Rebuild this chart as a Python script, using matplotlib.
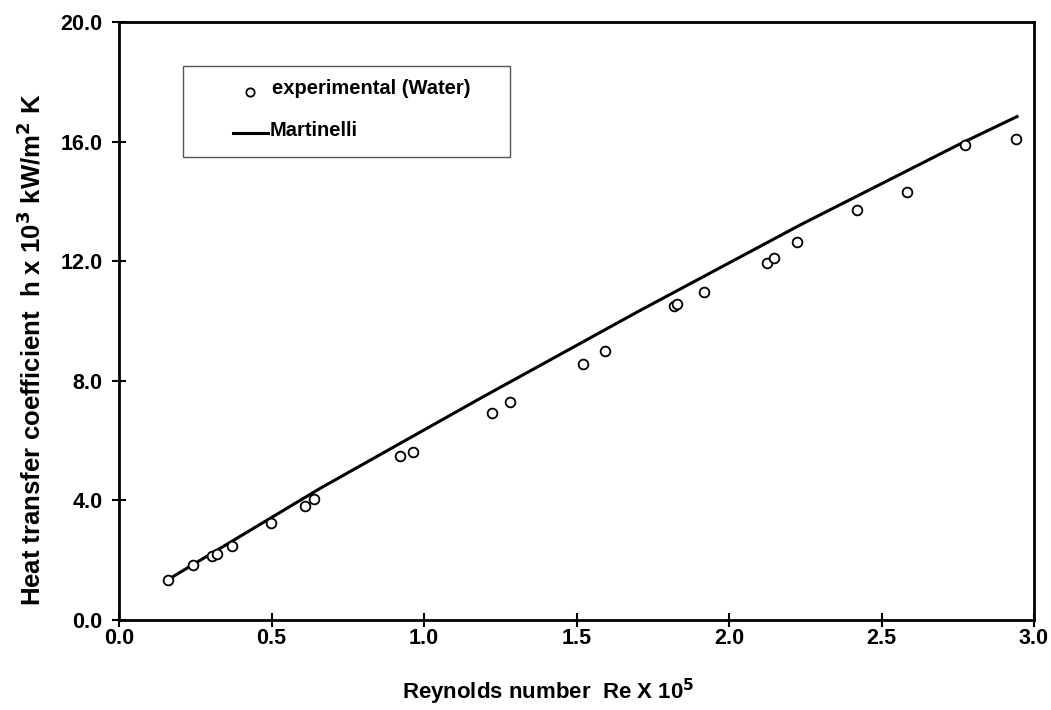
import matplotlib
matplotlib.use("Agg")
import matplotlib.pyplot as plt
from matplotlib.patches import Rectangle

# Experimental data (Re x 1e5, h x 1e3 kW/m2K)
re_exp = [0.161, 0.243, 0.305, 0.321, 0.370, 0.498, 0.610, 0.640, 0.920, 0.964,
          1.223, 1.282, 1.521, 1.593, 1.820, 1.830, 1.918, 2.125, 2.148, 2.223,
          2.420, 2.584, 2.774, 2.940]
h_exp = [1.34, 1.84, 2.14, 2.21, 2.47, 3.24, 3.81, 4.05, 5.48, 5.62,
         6.92, 7.29, 8.56, 9.00, 10.50, 10.57, 10.97, 11.94, 12.10, 12.64,
         13.71, 14.30, 15.89, 16.09]

# Martinelli correlation curve
re_mart = [0.162, 0.659, 1.184, 1.708, 2.233, 2.757, 2.949]
h_mart = [1.36, 4.40, 7.41, 10.35, 13.21, 15.92, 16.86]

xticks = [0.0, 0.5, 1.0, 1.5, 2.0, 2.5, 3.0]
yticks = [0.0, 4.0, 8.0, 12.0, 16.0, 20.0]

plt.rcParams['font.family'] = ['Liberation Sans', 'DejaVu Sans']
plt.rcParams['font.weight'] = 'bold'
plt.rcParams['mathtext.default'] = 'bf'

fig = plt.figure(figsize=(10.51, 7.10), dpi=100)
ax = fig.add_axes([119/1051, 1 - 620/710, (1034 - 119)/1051, (620 - 22)/710])

ax.plot(re_mart, h_mart, color='black', lw=2.2, solid_capstyle='butt')
ax.plot(re_exp, h_exp, linestyle='none', marker='o', markersize=7,
        markerfacecolor='white', markeredgecolor='black', markeredgewidth=1.3)

ax.set_xlim(0, 3.0)
ax.set_ylim(0, 20.0)
ax.set_xticks(xticks)
ax.set_yticks(yticks)
ax.set_xticklabels([f"{v:.1f}" for v in xticks], fontsize=15.5, fontweight='bold')
ax.set_yticklabels([f"{v:.1f}" for v in yticks], fontsize=15.5, fontweight='bold')
ax.tick_params(direction='inout', length=10, width=1.5)
ax.tick_params(axis='x', pad=1)
ax.tick_params(axis='y', pad=7)
for s in ax.spines.values():
    s.set_linewidth(2)

fig.text(548/1051, 1 - 692/710, r"Reynolds number  Re X 10$^{5}$",
         ha='center', va='center', fontsize=16, fontweight='bold')
fig.text(31/1051, 1 - 350/710, r"Heat transfer coefficient  h x 10$^{3}$ kW/m$^{2}$ K",
         ha='center', va='center', rotation=90, fontsize=18.5, fontweight='bold')

# Legend box drawn manually
def ax_x(px):
    return (px - 119) / (1034 - 119)

def ax_y(py):
    return (620 - py) / (620 - 22)

ax.add_patch(Rectangle((ax_x(183), ax_y(157)), ax_x(510) - ax_x(183), ax_y(66) - ax_y(157),
                       transform=ax.transAxes, facecolor='white', edgecolor='#555555', lw=1.0))
ax.plot([ax_x(250)], [ax_y(92)], transform=ax.transAxes, linestyle='none', marker='o',
        markersize=6, markerfacecolor='white', markeredgecolor='black', markeredgewidth=1.3)
ax.text(ax_x(272), ax_y(88), "experimental (Water)", transform=ax.transAxes,
        ha='left', va='center', fontsize=14.5, fontweight='bold')
ax.plot([ax_x(233), ax_x(268)], [ax_y(133), ax_y(133)], transform=ax.transAxes,
        color='black', lw=2.2)
ax.text(ax_x(270), ax_y(130), "Martinelli", transform=ax.transAxes,
        ha='left', va='center', fontsize=14.5, fontweight='bold')

fig.savefig("out.png", dpi=100)
